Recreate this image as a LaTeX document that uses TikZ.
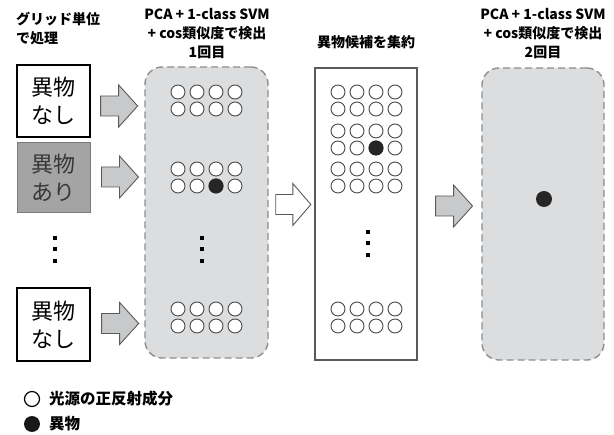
\documentclass[tikz,border=0pt]{standalone}
\usepackage{fontspec}
\setmainfont{Noto Sans CJK JP}
\usetikzlibrary{calc}

\definecolor{panelgray}{HTML}{DCDDDF}
\definecolor{dashgray}{HTML}{8E8E8E}
\definecolor{arrowgray}{HTML}{C8C9CA}
\definecolor{edgegray}{HTML}{5A5A5A}
\definecolor{boxgray}{HTML}{A4A4A4}
\definecolor{boxedge}{HTML}{7A7A7A}
\definecolor{ringgray}{HTML}{4A4A4A}
\definecolor{darktext}{HTML}{383838}

\tikzset{
  title/.style={font=\fontsize{14}{19}\selectfont\bfseries, align=center, inner sep=0pt},
  legendtext/.style={font=\fontsize{15.5}{18}\selectfont\bfseries, anchor=west, inner sep=0pt},
  inputbox/.style={draw=black, line width=1.3pt, fill=white, minimum width=73pt,
    inner sep=0pt, align=center, font=\fontsize{22}{28}\selectfont},
  panel/.style={draw=dashgray, line width=1.4pt, dash pattern=on 7pt off 4pt,
    fill=panelgray, rounded corners=17pt, inner sep=0pt},
  stack/.style={draw=edgegray, line width=1.1pt, fill=white, inner sep=0pt},
  ring/.style={draw=ringgray, line width=0.9pt, fill=white},
  hit/.style={fill=black!85},
  vdot/.style={fill=black},
  blockarrow/.pic={
    \path[pic actions] (0,-10) -- (18,-10) -- (18,-21) -- (37,0) -- (18,21)
      -- (18,10) -- (0,10) -- cycle;
  },
  grayarrow/.style={fill=arrowgray, draw=edgegray, line width=0.9pt},
  whitearrow/.style={fill=white, draw=edgegray, line width=0.9pt},
}

% a 2x4 block of light-spot circles, columns from x=#1 (spacing 19), rows at y=#2 and #2+17
\newcommand\spotblock[2]{%
  \foreach \c in {0,1,2,3}{
    \foreach \r in {0,1}{
      \draw[ring] ($(#1,#2)+(19*\c,17*\r)$) circle[radius=7];
    }
  }%
}
% a vertical ellipsis made of three small squares centred on x=#1, starting at y=#2
\newcommand\vellipsis[2]{%
  \foreach \k in {0,1,2}{
    \fill[vdot] ($(#1,#2)+(-2,11.5*\k-2)$) rectangle ++(4,4);
  }%
}

\begin{document}
\begin{tikzpicture}[x=1pt, y=-1pt]
\useasboundingbox (0,0) rectangle (614,435);

% column headings
\node[title, align=left, anchor=west] (hgrid) at (16,29) {グリッド単位\\で処理};
\node[title] (hfirst) at (207,34) {PCA + 1-class SVM\\+ cos類似度で検出\\1回目};
\node[title] (hmerge) at (366,42) {異物候補を集約};
\node[title] (hsecond) at (543,34) {PCA + 1-class SVM\\+ cos類似度で検出\\2回目};

% grid cells
\node[inputbox, minimum height=72pt] (cellA) at (53.5,101) {異物\\なし};
\node[inputbox, minimum height=70pt, fill=boxgray, draw=boxedge, line width=1pt,
      text=darktext] (cellB) at (53.5,178) {異物\\あり};
\vellipsis{55}{238}
\node[inputbox, minimum height=73pt] (cellC) at (53.5,324.5) {異物\\なし};

% first detection pass
\node[panel, minimum width=123pt, minimum height=291pt] (pass1) at (206.5,212.5) {};
\spotblock{178}{92}
\spotblock{178}{169}
\fill[hit] (216,186) circle[radius=7.5];
\vellipsis{202}{238}
\spotblock{178}{309}

% collected candidates
\node[stack, minimum width=102pt, minimum height=292pt] (merge) at (366,214) {};
\spotblock{338}{92}
\spotblock{338}{131}
\fill[hit] (376,148) circle[radius=7.5];
\spotblock{338}{169}
\vellipsis{368}{232}
\spotblock{338}{309}

% second detection pass
\node[panel, minimum width=122pt, minimum height=292pt] (pass2) at (543,214) {};
\fill[hit] (pass2.center) ++(1,-15) circle[radius=8];

% block arrows
\path ($(cellA.east)+(10,5)$) pic[grayarrow] {blockarrow};
\path ($(cellB.east)+(11,-1)$) pic[grayarrow] {blockarrow};
\path ($(cellC.east)+(11,-1)$) pic[grayarrow] {blockarrow};
\path ($(pass1.east)+(7,-8)$) pic[whitearrow, xscale=0.95] {blockarrow};
\path ($(merge.east)+(18,-8)$) pic[grayarrow] {blockarrow};

% legend
\draw[ring, line width=1.2pt, draw=black] (32,399) circle[radius=7.5];
\node[legendtext] (legspot) at (49,399) {光源の正反射成分};
\fill[black!90] (32,424) circle[radius=8];
\node[legendtext] (leghit) at (49,424) {異物};
\end{tikzpicture}
\end{document}
